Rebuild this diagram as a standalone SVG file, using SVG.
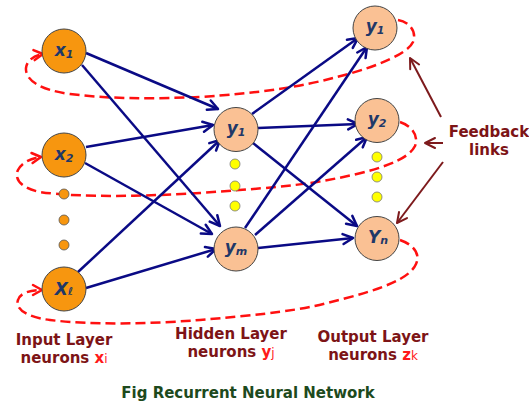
<svg xmlns="http://www.w3.org/2000/svg" width="529" height="404" viewBox="0 0 529 404">
<defs>
<marker id="ab" markerUnits="userSpaceOnUse" markerWidth="14" markerHeight="14" refX="11" refY="6" orient="auto" overflow="visible">
<path d="M1,1 L11,6 L1,11" fill="none" stroke="#0a0a85" stroke-width="2.5" stroke-linecap="round" stroke-linejoin="round"/>
</marker>
<marker id="ar" markerUnits="userSpaceOnUse" markerWidth="14" markerHeight="14" refX="10" refY="6" orient="auto" overflow="visible">
<path d="M1,1 L10,6 L1,11" fill="none" stroke="#ff1010" stroke-width="2.5" stroke-linecap="round" stroke-linejoin="round"/>
</marker>
<marker id="ad" markerUnits="userSpaceOnUse" markerWidth="14" markerHeight="14" refX="11" refY="6" orient="auto" overflow="visible">
<path d="M1,1 L11,6 L1,11" fill="none" stroke="#7d1a1c" stroke-width="2" stroke-linecap="round" stroke-linejoin="round"/>
</marker>
</defs>
<style>
.in{fill:#f7960f;stroke:#444;stroke-width:1}
.hd{fill:#fac194;stroke:#444;stroke-width:1}
.dot{fill:#f7960f;stroke:#555;stroke-width:0.8}
.ydot{fill:#ffff00;stroke:#777;stroke-width:0.8}
.lbl{font-family:"DejaVu Sans",Verdana,sans-serif;font-weight:bold;font-style:italic;font-size:17px;fill:#1f3868;text-anchor:middle}
.sub{font-size:11px}
.bl{stroke:#0a0a85;stroke-width:2.5;fill:none;marker-end:url(#ab)}
.rd{stroke:#ff1010;stroke-width:2.5;fill:none;stroke-dasharray:10 5;marker-end:url(#ar)}
.fb{stroke:#7d1a1c;stroke-width:2;fill:none;marker-end:url(#ad)}
.txt{font-family:"DejaVu Sans",Verdana,sans-serif;font-weight:bold;font-size:15px;fill:#7d1416;text-anchor:middle}
.red{fill:#ff1a1a}
.thin{font-weight:normal;font-size:12px}
.cap{font-family:"DejaVu Sans",Verdana,sans-serif;font-weight:bold;font-size:15px;fill:#1d4a1d;text-anchor:middle}
</style>
<rect width="529" height="404" fill="#ffffff"/>
<g id="connectors">
<path class="rd" d="M398,20 C410,22 417,32 413,42 C408,53 380,66 337,77 C300,87 260,93 200,97 C150,99 110,99 70,94 C40,90 25,80 26,68 C27,60 35,55 43,54"/>
<path class="rd" d="M400,122 C412,126 419,136 415,146 C408,160 380,171 317,182 C290,186 270,188 200,193 C150,196 80,198 40,192 C20,188 14,178 18,170 C22,162 32,158 41,157"/>
<path class="rd" d="M400,240 C412,244 421,253 416,264 C410,278 385,289 327,303 C300,310 270,314 200,320 C150,324 90,325 50,320 C25,317 15,308 18,300 C20,293 30,290 42,290"/>
<line class="bl" x1="86" y1="53" x2="218" y2="109"/>
<line class="bl" x1="82" y1="65" x2="220" y2="226"/>
<line class="bl" x1="86" y1="147" x2="213" y2="125"/>
<line class="bl" x1="85" y1="163" x2="212" y2="234"/>
<line class="bl" x1="78" y1="272" x2="220" y2="140"/>
<line class="bl" x1="86" y1="288" x2="216" y2="249"/>
<line class="bl" x1="252" y1="114" x2="358" y2="38"/>
<line class="bl" x1="258" y1="128" x2="358" y2="124"/>
<line class="bl" x1="253" y1="143" x2="357" y2="226"/>
<line class="bl" x1="245" y1="228" x2="367" y2="47"/>
<line class="bl" x1="255" y1="235" x2="367" y2="137"/>
<line class="bl" x1="258" y1="248" x2="353" y2="238"/>
<line class="fb" x1="441" y1="117" x2="410" y2="58"/>
<line class="fb" x1="443" y1="143" x2="425" y2="143"/>
<line class="fb" x1="443" y1="162" x2="397" y2="223"/>
</g>
<g id="x1"><circle class="in" cx="64" cy="51" r="22"/><text class="lbl" x="64" y="56">x<tspan class="sub" dy="2">1</tspan></text></g>
<g id="x2"><circle class="in" cx="64" cy="155" r="22"/><text class="lbl" x="64" y="160">x<tspan class="sub" dy="2">2</tspan></text></g>
<g id="xl"><circle class="in" cx="64" cy="289" r="22"/><text class="lbl" x="64" y="295">X<tspan class="sub" dy="0">ℓ</tspan></text></g>
<g id="input-dots"><circle class="dot" cx="64" cy="194" r="5"/><circle class="dot" cx="64" cy="220" r="5"/><circle class="dot" cx="64" cy="245" r="5"/></g>
<g id="h1"><circle class="hd" cx="236" cy="129.5" r="22"/><text class="lbl" x="236" y="134">y<tspan class="sub" dy="2">1</tspan></text></g>
<g id="hm"><circle class="hd" cx="236" cy="249" r="22"/><text class="lbl" x="236" y="253">y<tspan class="sub" dy="2">m</tspan></text></g>
<g id="hidden-dots"><circle class="ydot" cx="235" cy="164" r="5"/><circle class="ydot" cx="235" cy="186" r="5"/><circle class="ydot" cx="235" cy="206" r="5"/></g>
<g id="o1"><circle class="hd" cx="375" cy="28" r="22"/><text class="lbl" x="375" y="32">y<tspan class="sub" dy="2">1</tspan></text></g>
<g id="o2"><circle class="hd" cx="377" cy="120.5" r="22"/><text class="lbl" x="377" y="125">y<tspan class="sub" dy="2">2</tspan></text></g>
<g id="on"><circle class="hd" cx="377" cy="238.5" r="22"/><text class="lbl" x="378" y="243">Y<tspan class="sub" dy="1">n</tspan></text></g>
<g id="output-dots"><circle class="ydot" cx="377" cy="157" r="5"/><circle class="ydot" cx="377" cy="177" r="5"/><circle class="ydot" cx="377" cy="197" r="5"/></g>
<g id="feedback-label"><text class="txt" x="489" y="137">Feedback</text><text class="txt" x="489" y="155">links</text></g>
<g id="labels">
<text class="txt" x="64" y="345">Input Layer</text>
<text class="txt" x="64" y="363">neurons <tspan class="red">x</tspan><tspan class="red thin">i</tspan></text>
<text class="txt" x="231" y="339">Hidden Layer</text>
<text class="txt" x="231" y="357">neurons <tspan class="red">y</tspan><tspan class="red thin">j</tspan></text>
<text class="txt" x="373" y="342">Output Layer</text>
<text class="txt" x="373" y="360">neurons <tspan class="red">z</tspan><tspan class="red thin">k</tspan></text>
<text class="cap" x="248" y="398">Fig Recurrent Neural Network</text>
</g>
</svg>
